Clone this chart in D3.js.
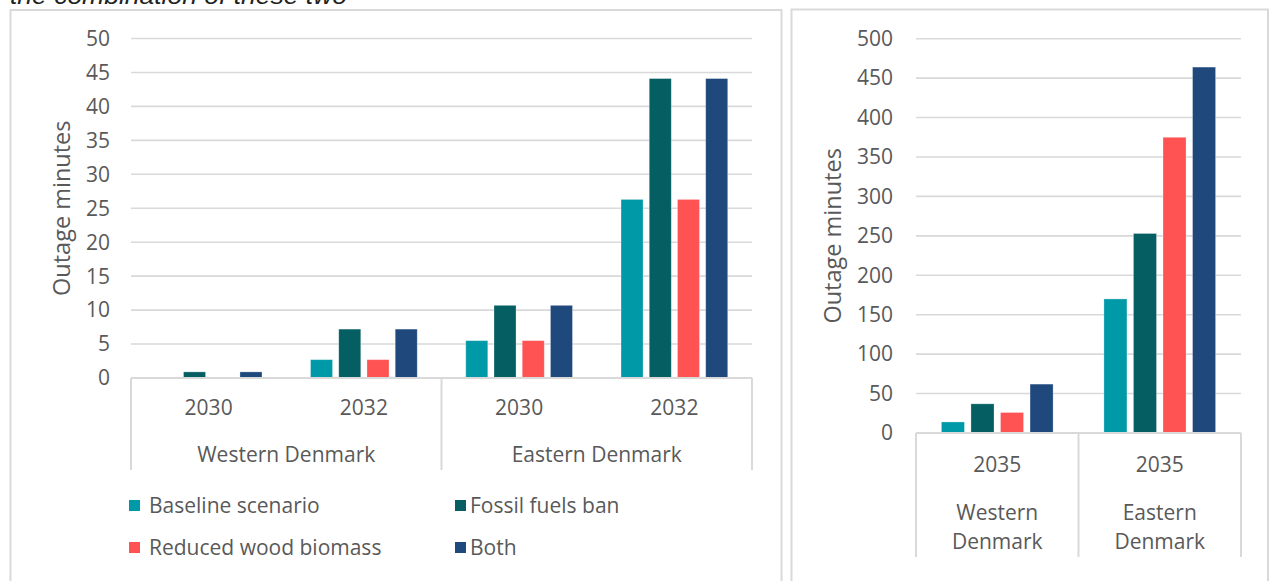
<!DOCTYPE html>
<html>
<head>
<meta charset="utf-8">
<script src="https://cdn.jsdelivr.net/npm/d3@7"></script>
<style>
  html, body { margin: 0; padding: 0; background: #fff; }
  svg { display: block; }
  text { font-family: "Open Sans", "Noto Sans", sans-serif; fill: #595959; }
</style>
</head>
<body>
<svg id="chart" width="1270" height="581"></svg>
<script>
// Series shared by both panels
const seriesNames = ["Baseline scenario", "Fossil fuels ban", "Reduced wood biomass", "Both"];
const seriesColors = ["#0099A8", "#055E62", "#FF5252", "#1F497C"];

// Left panel: 2030 and 2032 per price region
const leftRegions = ["Western Denmark", "Eastern Denmark"];
const leftYears = ["2030", "2032"];
const leftBaseline = [0, 2.7, 5.5, 26.3];
const leftFossil = [0.9, 7.2, 10.7, 44.1];
const leftReduced = [0, 2.7, 5.5, 26.3];
const leftBoth = [0.9, 7.2, 10.7, 44.1];
const leftTicks = [0, 5, 10, 15, 20, 25, 30, 35, 40, 45, 50];

// Right panel: 2035 per price region
const rightRegions = [["Western", "Denmark"], ["Eastern", "Denmark"]];
const rightYears = ["2035"];
const rightBaseline = [14, 170];
const rightFossil = [37, 253];
const rightReduced = [26, 375];
const rightBoth = [62, 464];
const rightTicks = [0, 50, 100, 150, 200, 250, 300, 350, 400, 450, 500];

const yTitle = "Outage minutes";
const captionText = "the combination of these two";

const svg = d3.select("#chart");
const gridColor = "#d9d9d9";

// Caption line from the surrounding document, running off the top edge
svg.append("text")
  .attr("x", 10).attr("y", 4)
  .attr("textLength", 337).attr("lengthAdjust", "spacingAndGlyphs")
  .style("font-family", "'Liberation Sans', Arial, sans-serif")
  .style("font-style", "italic").style("font-size", "24px").style("fill", "#222")
  .text(captionText);

// Panel frames
svg.append("rect").attr("x", 10.5).attr("y", 10).attr("width", 771).attr("height", 620)
  .attr("fill", "none").attr("stroke", gridColor).attr("stroke-width", 2);
svg.append("rect").attr("x", 791.5).attr("y", 9.5).attr("width", 476.5).attr("height", 620)
  .attr("fill", "none").attr("stroke", gridColor).attr("stroke-width", 2);

function drawPanel(opt) {
  const g = svg.append("g");
  const y = d3.scaleLinear().domain(opt.domain).range([opt.bottom, opt.top]);

  // gridlines
  g.selectAll("line.grid").data(opt.ticks).join("line")
    .attr("x1", opt.left).attr("x2", opt.right)
    .attr("y1", d => y(d)).attr("y2", d => y(d))
    .attr("stroke", gridColor).attr("stroke-width", 1.6);

  // y tick labels
  g.selectAll("text.tick").data(opt.ticks).join("text")
    .attr("x", opt.left - opt.labelGap).attr("y", d => y(d)).attr("dy", "0.35em")
    .attr("text-anchor", "end").style("font-size", "21px")
    .text(d => d);

  // y axis title
  g.append("text")
    .attr("transform", `translate(${opt.titleX},${(opt.top + opt.bottom) / 2}) rotate(-90)`)
    .attr("text-anchor", "middle").attr("dy", "0.35em").style("font-size", "23.5px")
    .text(yTitle);

  // categories: region x year
  const cats = [];
  opt.regions.forEach((r, ri) => opt.years.forEach(yr => cats.push({ key: ri + "|" + yr, region: ri, year: yr })));
  const x0 = d3.scaleBand().domain(cats.map(c => c.key)).range([opt.left, opt.right]).padding(0);
  const x1 = d3.scaleBand().domain(d3.range(seriesNames.length))
    .range([0, x0.bandwidth()]).paddingInner(0.22).paddingOuter(0.86);

  const bars = [];
  opt.series.forEach((vals, si) => vals.forEach((v, ci) => bars.push({ si, ci, v })));
  g.selectAll("rect.bar").data(bars).join("rect")
    .attr("x", d => x0(cats[d.ci].key) + x1(d.si))
    .attr("width", x1.bandwidth())
    .attr("y", d => y(d.v))
    .attr("height", d => y(0) - y(d.v))
    .attr("fill", d => seriesColors[d.si])
    .attr("stroke", "#ffffff").attr("stroke-opacity", 0.35).attr("stroke-width", 0.8);

  // category axis with region separators
  g.append("line").attr("x1", opt.left).attr("x2", opt.right)
    .attr("y1", y(0)).attr("y2", y(0)).attr("stroke", gridColor).attr("stroke-width", 2);
  const regionW = (opt.right - opt.left) / opt.regions.length;
  const seps = d3.range(opt.regions.length + 1).map(i => opt.left + i * regionW);
  g.selectAll("line.sep").data(seps).join("line")
    .attr("x1", d => d).attr("x2", d => d)
    .attr("y1", y(0)).attr("y2", opt.sepBottom)
    .attr("stroke", gridColor).attr("stroke-width", 2);

  g.selectAll("text.year").data(cats).join("text")
    .attr("x", d => x0(d.key) + x0.bandwidth() / 2).attr("y", opt.yearY)
    .attr("text-anchor", "middle").style("font-size", "21px")
    .text(d => d.year);

  opt.regions.forEach((r, ri) => {
    const lines = Array.isArray(r) ? r : [r];
    lines.forEach((ln, li) => {
      g.append("text")
        .attr("x", opt.left + (ri + 0.5) * regionW).attr("y", opt.regionY + li * opt.regionLineH)
        .attr("text-anchor", "middle").style("font-size", "21px")
        .text(ln);
    });
  });
}

drawPanel({
  domain: [0, 50], ticks: leftTicks, top: 38.5, bottom: 378, left: 131, right: 752,
  labelGap: 21, titleX: 62, regions: leftRegions, years: leftYears,
  series: [leftBaseline, leftFossil, leftReduced, leftBoth],
  sepBottom: 470, yearY: 415, regionY: 462, regionLineH: 0
});

drawPanel({
  domain: [0, 500], ticks: rightTicks, top: 38.7, bottom: 433, left: 916, right: 1241,
  labelGap: 23, titleX: 833, regions: rightRegions, years: rightYears,
  series: [rightBaseline, rightFossil, rightReduced, rightBoth],
  sepBottom: 557, yearY: 472, regionY: 520, regionLineH: 29
});

// Legend (left panel, two columns)
const legendPos = [[129, 506], [455, 506], [129, 548], [455, 548]];
const legendTextX = [149, 470, 149, 470];
const leg = svg.append("g");
seriesNames.forEach((name, i) => {
  leg.append("rect").attr("x", legendPos[i][0]).attr("y", legendPos[i][1] - 6)
    .attr("width", 11).attr("height", 11).attr("fill", seriesColors[i]);
  leg.append("text").attr("x", legendTextX[i]).attr("y", legendPos[i][1]).attr("dy", "0.35em")
    .style("font-size", "21px").text(name);
});
</script>
</body>
</html>
